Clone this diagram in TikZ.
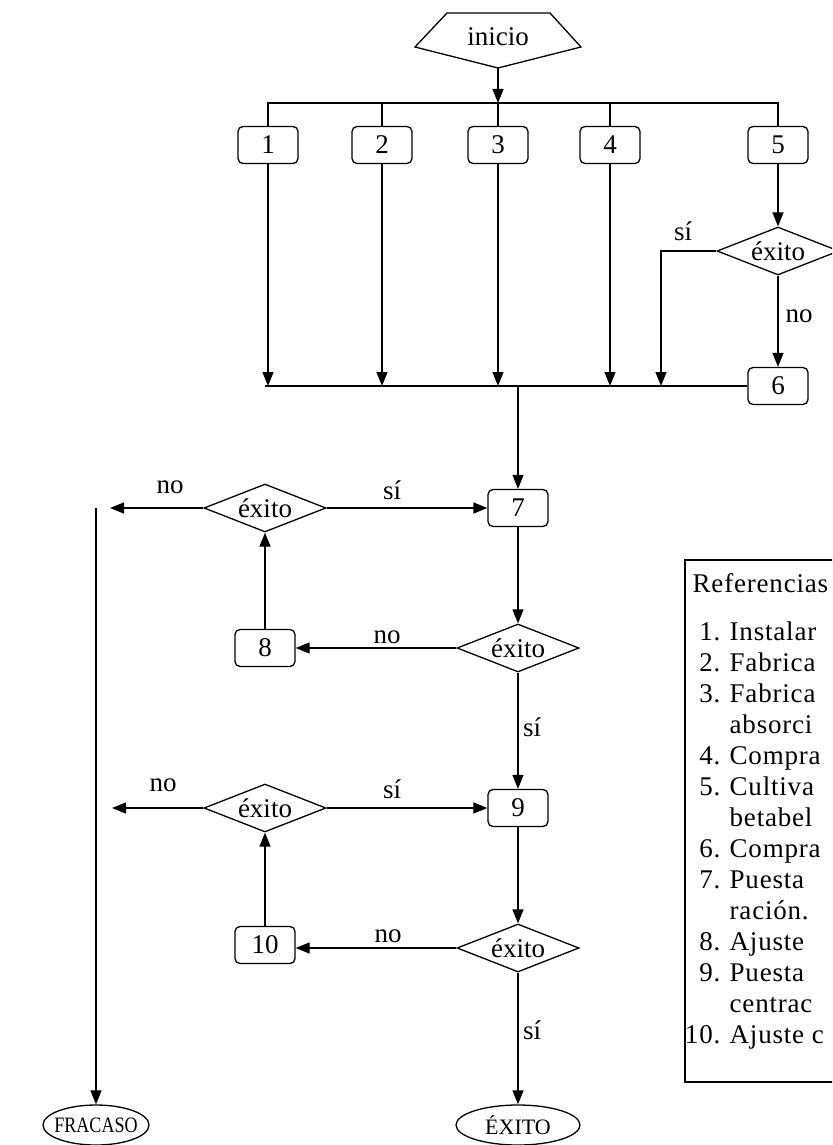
\documentclass[tikz,border=0pt]{standalone}
\usepackage{fontspec}
\setmainfont{Liberation Serif}
\newfontfamily\reffont[LetterSpace=3]{Liberation Serif}
\usetikzlibrary{arrows.meta,shapes.geometric}
\begin{document}
\begin{tikzpicture}[x=1pt,y=-1pt,
  line width=1.3pt,
  arr/.style={-{Triangle[length=14pt,width=11pt]}},
  every node/.style={font=\fontsize{27}{30}\selectfont},
  box/.style={draw,rounded corners=5pt,minimum width=60pt,minimum height=37pt,inner sep=0pt},
  dec/.style={draw,diamond,aspect=2.5,minimum width=122pt,minimum height=48pt,inner sep=0pt},
  term/.style={draw,ellipse,minimum height=40pt,inner sep=0pt,font=\fontsize{22}{24}\selectfont},
  lab/.style={inner sep=0pt},
  refn/.style={anchor=base east,inner sep=0pt,font=\reffont\fontsize{27}{30}\selectfont},
  reft/.style={anchor=base west,inner sep=0pt,font=\reffont\fontsize{27}{30}\selectfont},
]
\useasboundingbox (0,0) rectangle (832,1145);
\clip (0,0) rectangle (832,1145);
\fill[white] (0,0) rectangle (832,1145);

% start
\draw (447,13) -- (550,13) -- (581,47) -- (498,68) -- (415,47) -- cycle;
\node[lab] (ini) at (498,37) {inicio};
\coordinate (inb) at (498,68);
\coordinate (j0) at (498,103);

% first row of boxes
\node[box] (b1) at (268,145) {1};
\node[box] (b2) at (382,145) {2};
\node[box] (b3) at (498,145) {3};
\node[box] (b4) at (610,145) {4};
\node[box] (b5) at (778,145) {5};

\draw[arr] (inb) -- (j0);
\draw (b1.north) |- (j0) -| (b5.north);
\draw (b2.north) -- (b2.north |- j0);
\draw (b3.north) -- (j0);
\draw (b4.north) -- (b4.north |- j0);

% decision after 5
\node[dec] (d1) at (778,251) {éxito};
\node[box] (b6) at (778,386) {6};
\coordinate (s1) at (661,386);
\draw[arr] (b5) -- (d1);
\draw[arr] (d1.west) -| (s1);
\node[lab] (l1) at (683,231) {sí};
\draw[arr] (d1) -- (b6);
\node[lab] (l2) at (799,316) {no};

% collector line
\coordinate (c0) at (265,386);
\draw (b6.west) -- (c0);
\draw[arr] (b1.south) -- (b1.south |- c0);
\draw[arr] (b2.south) -- (b2.south |- c0);
\draw[arr] (b3.south) -- (b3.south |- c0);
\draw[arr] (b4.south) -- (b4.south |- c0);

% box 7 and decision
\node[box] (b7) at (518,508) {7};
\coordinate (j7) at (518,386);
\draw[arr] (j7) -- (b7);
\node[dec] (d2) at (265,508) {éxito};
\draw[arr] (d2) -- (b7);
\node[lab] (l3) at (392,490) {sí};
\coordinate (n1) at (110,508);
\draw[arr] (d2.west) -- (n1);
\node[lab] (l4) at (170,487) {no};

% failure line
\coordinate (f0) at (96,508);
\node[term] (fr) at (96,1125) [minimum width=106pt] {\makebox[0pt]{\scalebox{0.82}[1]{FRACASO}}};
\draw[arr] (f0) -- (fr);

% decision after 7
\node[dec] (d3) at (518,648) {éxito};
\node[box] (b8) at (265,648) {8};
\draw[arr] (b7) -- (d3);
\draw[arr] (d3) -- (b8);
\node[lab] (l5) at (387,637) {no};
\draw[arr] (b8) -- (d2);

\node[box] (b9) at (518,808) {9};
\draw[arr] (d3) -- (b9);
\node[lab] (l6) at (532,727) {sí};

% decision before 9
\node[dec] (d4) at (265,808) {éxito};
\draw[arr] (d4) -- (b9);
\node[lab] (l7) at (392,789) {sí};
\coordinate (n2) at (112,808);
\draw[arr] (d4.west) -- (n2);
\node[lab] (l8) at (163,785) {no};

% decision after 9
\node[dec] (d5) at (518,948) {éxito};
\node[box] (b10) at (265,945) {10};
\draw[arr] (b9) -- (d5);
\draw[arr] (d5.west) -- (b10.east |- d5.west);
\node[lab] (l9) at (388,936) {no};
\draw[arr] (b10) -- (d4);

\node[term] (ex) at (518,1125) [minimum width=124pt] {\makebox[0pt]{ÉXITO}};
\draw[arr] (d5) -- (ex);
\node[lab] (l10) at (532,1030) {sí};

% references box
\draw (685,560) rectangle (870,1082);
\node[reft] (r0) at (692,592) {Referencias};
\node[refn] (n01) at (721,640) {1.};  \node[reft] (t01) at (729,640) {Instalar};
\node[refn] (n02) at (721,671) {2.};  \node[reft] (t02) at (729,671) {Fabrica};
\node[refn] (n03) at (721,702) {3.};  \node[reft] (t03) at (729,702) {Fabrica};
\node[reft] (t03b) at (729,733) {absorci};
\node[refn] (n04) at (721,764) {4.};  \node[reft] (t04) at (729,764) {Compra};
\node[refn] (n05) at (721,795) {5.};  \node[reft] (t05) at (729,795) {Cultiva};
\node[reft] (t05b) at (729,826) {betabel};
\node[refn] (n06) at (721,857) {6.};  \node[reft] (t06) at (729,857) {Compra};
\node[refn] (n07) at (721,888) {7.};  \node[reft] (t07) at (729,888) {Puesta};
\node[reft] (t07b) at (729,919) {ración.};
\node[refn] (n08) at (721,950) {8.};  \node[reft] (t08) at (729,950) {Ajuste};
\node[refn] (n09) at (721,981) {9.};  \node[reft] (t09) at (729,981) {Puesta};
\node[reft] (t09b) at (729,1012) {centrac};
\node[refn] (n10) at (721,1043) {10.}; \node[reft] (t10) at (729,1043) {Ajuste c};
\end{tikzpicture}
\end{document}
